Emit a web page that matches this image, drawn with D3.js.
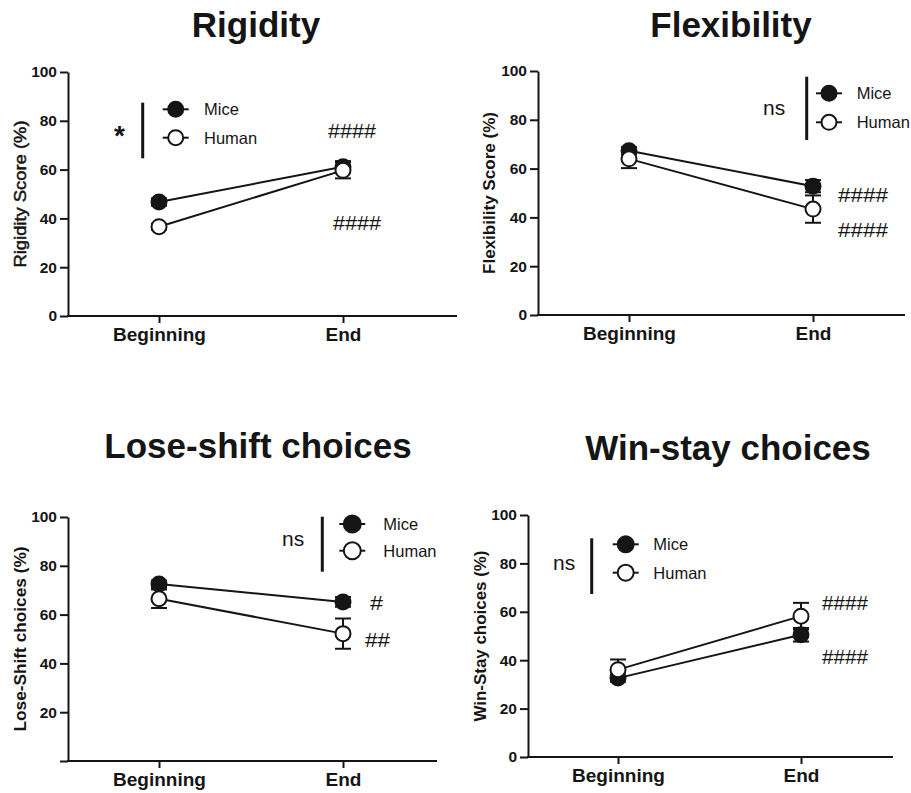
<!DOCTYPE html>
<html><head><meta charset="utf-8">
<script src="https://cdn.jsdelivr.net/npm/d3@7"></script>
<style>
body{margin:0;background:#fff}
svg{display:block}
text{font-family:"Liberation Sans", Arial, sans-serif; fill:#151515}
</style>
</head><body>
<svg id="chart" width="911" height="793"></svg>
<script>
// ---------- data ----------
const categories = ["Beginning", "End"];
const yTicks = [0, 20, 40, 60, 80, 100];
const seriesNames = ["Mice", "Human"];

const rigidityMice = [46.7, 61.2];
const rigidityMiceErr = [1.5, 2.3];
const rigidityHuman = [36.6, 59.7];
const rigidityHumanErr = [1.2, 3.3];

const flexibilityMice = [67.3, 52.8];
const flexibilityMiceErr = [1.5, 2.5];
const flexibilityHuman = [64.0, 43.4];
const flexibilityHumanErr = [3.8, 5.6];

const loseShiftMice = [72.5, 65.2];
const loseShiftMiceErr = [1.5, 2.0];
const loseShiftHuman = [66.5, 52.2];
const loseShiftHumanErr = [3.8, 6.2];

const winStayMice = [32.6, 50.5];
const winStayMiceErr = [1.5, 2.8];
const winStayHuman = [36.1, 58.2];
const winStayHumanErr = [4.2, 5.5];

const titles = ["Rigidity", "Flexibility", "Lose-shift choices", "Win-stay choices"];
const yLabels = ["Rigidity Score (%)", "Flexibility Score (%)", "Lose-Shift choices (%)", "Win-Stay choices (%)"];
const sigLabels = ["*", "ns", "ns", "ns"];
const hashUpper = ["####", "####", "#", "####"];
const hashLower = ["####", "####", "##", "####"];

const panelData = [
  [rigidityMice, rigidityMiceErr, rigidityHuman, rigidityHumanErr],
  [flexibilityMice, flexibilityMiceErr, flexibilityHuman, flexibilityHumanErr],
  [loseShiftMice, loseShiftMiceErr, loseShiftHuman, loseShiftHumanErr],
  [winStayMice, winStayMiceErr, winStayHuman, winStayHumanErr]
];

// ---------- layout ----------
const layouts = [
  {x0:68, x1:457, yB:316, yT:72, cL:159, cR:343, tX:256, tY:37, ylX:20, ylLen:147, ylW:"normal", ylStroke:0.5, zero:true,
   bar:[142.7,102.7,158.3], legX:175.7, legY:[109.3,137.7], legTX:204, legR:7.5,
   sig:[114,145,28,"bold"], hU:[328,138,48], hL:[333,230,48]},
  {x0:538, x1:905, yB:315, yT:71, cL:629, cR:813, tX:731, tY:37, ylX:489, ylLen:162, ylW:"bold", ylStroke:0, zero:true,
   bar:[806.7,76.7,140], legX:829, legY:[93.3,122.3], legTX:856.7, legR:7.5,
   sig:[763,115,21,"normal"], hU:[838,202,50], hL:[838,237,50]},
  {x0:68, x1:437, yB:761, yT:517, cL:159, cR:343, tX:258, tY:458, ylX:20, ylLen:185, ylW:"bold", ylStroke:0, zero:false,
   bar:[322.3,516.7,571.7], legX:352.3, legY:[524,550.7], legTX:383.3, legR:8.5,
   sig:[282,546,21,"normal"], hU:[370,610,13], hL:[365,647,25]},
  {x0:528, x1:893, yB:757, yT:515, cL:618, cR:801, tX:728, tY:460, ylX:480, ylLen:171, ylW:"bold", ylStroke:0, zero:true,
   bar:[591.7,538.3,594], legX:625.7, legY:[544.3,572.7], legTX:653.3, legR:8,
   sig:[553,570,21,"normal"], hU:[822,610,46], hL:[822,664,46]}
];

const svg = d3.select("#chart");
const ink = "#151515";

layouts.forEach((L, i) => {
  const [mice, miceErr, human, humanErr] = panelData[i];
  const g = svg.append("g");
  const y = d3.scaleLinear().domain([0, 100]).range([L.yB, L.yT]);
  const x = d3.scalePoint().domain(categories).range([L.cL, L.cR]);

  // title
  g.append("text").attr("x", L.tX).attr("y", L.tY).attr("text-anchor", "middle")
    .attr("font-size", 35).attr("font-weight", "bold").text(titles[i]);

  // y axis
  const ya = g.append("g").attr("transform", `translate(${L.x0},0)`)
    .call(d3.axisLeft(y).tickValues(yTicks).tickSize(8).tickSizeOuter(0).tickPadding(3)
      .tickFormat(d => (d === 0 && !L.zero) ? "" : d));
  ya.selectAll("path,line").attr("stroke", ink).attr("stroke-width", 2);
  ya.selectAll("text").attr("font-size", 15.5).attr("font-weight", "bold")
    .attr("font-family", '"Liberation Sans", Arial, sans-serif').attr("fill", ink);

  // x axis
  const xa = g.append("g").attr("transform", `translate(0,${L.yB})`)
    .call(d3.axisBottom(x).tickSize(7).tickSizeOuter(0).tickPadding(5));
  xa.select(".domain").remove();
  xa.selectAll("line").attr("stroke", ink).attr("stroke-width", 2);
  xa.selectAll("text").attr("font-size", 19).attr("font-weight", "bold")
    .attr("font-family", '"Liberation Sans", Arial, sans-serif').attr("fill", ink);
  g.append("line").attr("x1", L.x0 - 1).attr("x2", L.x1).attr("y1", L.yB).attr("y2", L.yB)
    .attr("stroke", ink).attr("stroke-width", 2);

  // y label
  g.append("text")
    .attr("transform", `translate(${L.ylX},${(L.yB + L.yT) / 2}) rotate(-90)`)
    .attr("text-anchor", "middle").attr("dominant-baseline", "central")
    .attr("font-size", 16).attr("font-weight", L.ylW)
    .attr("stroke", ink).attr("stroke-width", L.ylStroke)
    .attr("textLength", L.ylLen).attr("lengthAdjust", "spacingAndGlyphs")
    .text(yLabels[i]);

  // series
  const series = [
    {name: seriesNames[0], vals: mice, errs: miceErr, fill: ink},
    {name: seriesNames[1], vals: human, errs: humanErr, fill: "#fff"}
  ];
  const line = d3.line().x((d, k) => x(categories[k])).y(d => y(d));
  series.forEach(s => {
    const sg = g.append("g");
    sg.append("path").attr("d", line(s.vals)).attr("fill", "none")
      .attr("stroke", ink).attr("stroke-width", 2);
    s.vals.forEach((v, k) => {
      const cx = x(categories[k]);
      const lo = y(v - s.errs[k]), hi = y(v + s.errs[k]);
      sg.append("line").attr("x1", cx).attr("x2", cx).attr("y1", lo).attr("y2", hi)
        .attr("stroke", ink).attr("stroke-width", 2);
      [lo, hi].forEach(yy => sg.append("line").attr("x1", cx - 8).attr("x2", cx + 8)
        .attr("y1", yy).attr("y2", yy).attr("stroke", ink).attr("stroke-width", 2));
    });
    sg.selectAll("circle.pt").data(s.vals).join("circle").attr("class", "pt")
      .attr("cx", (d, k) => x(categories[k])).attr("cy", d => y(d)).attr("r", 7.5)
      .attr("fill", s.fill).attr("stroke", ink).attr("stroke-width", 2);
  });

  // legend bracket + significance
  g.append("line").attr("x1", L.bar[0]).attr("x2", L.bar[0]).attr("y1", L.bar[1]).attr("y2", L.bar[2])
    .attr("stroke", ink).attr("stroke-width", 3);
  g.append("text").attr("x", L.sig[0]).attr("y", L.sig[1]).attr("font-size", L.sig[2])
    .attr("font-weight", L.sig[3]).text(sigLabels[i]);

  // legend
  series.forEach((s, k) => {
    const ly = L.legY[k];
    g.append("line").attr("x1", L.legX - 13).attr("x2", L.legX + 13).attr("y1", ly).attr("y2", ly)
      .attr("stroke", ink).attr("stroke-width", 2);
    g.append("circle").attr("cx", L.legX).attr("cy", ly).attr("r", L.legR)
      .attr("fill", s.fill).attr("stroke", ink).attr("stroke-width", 2);
    g.append("text").attr("x", L.legTX).attr("y", ly).attr("dy", "0.36em")
      .attr("font-size", 16.5).text(s.name);
  });

  // hash annotations
  [[L.hU, hashUpper[i]], [L.hL, hashLower[i]]].forEach(([p, t]) => {
    g.append("text").attr("x", p[0]).attr("y", p[1]).attr("font-size", 21)
      .attr("textLength", p[2]).attr("lengthAdjust", "spacingAndGlyphs").text(t);
  });
});
</script>
</body></html>
